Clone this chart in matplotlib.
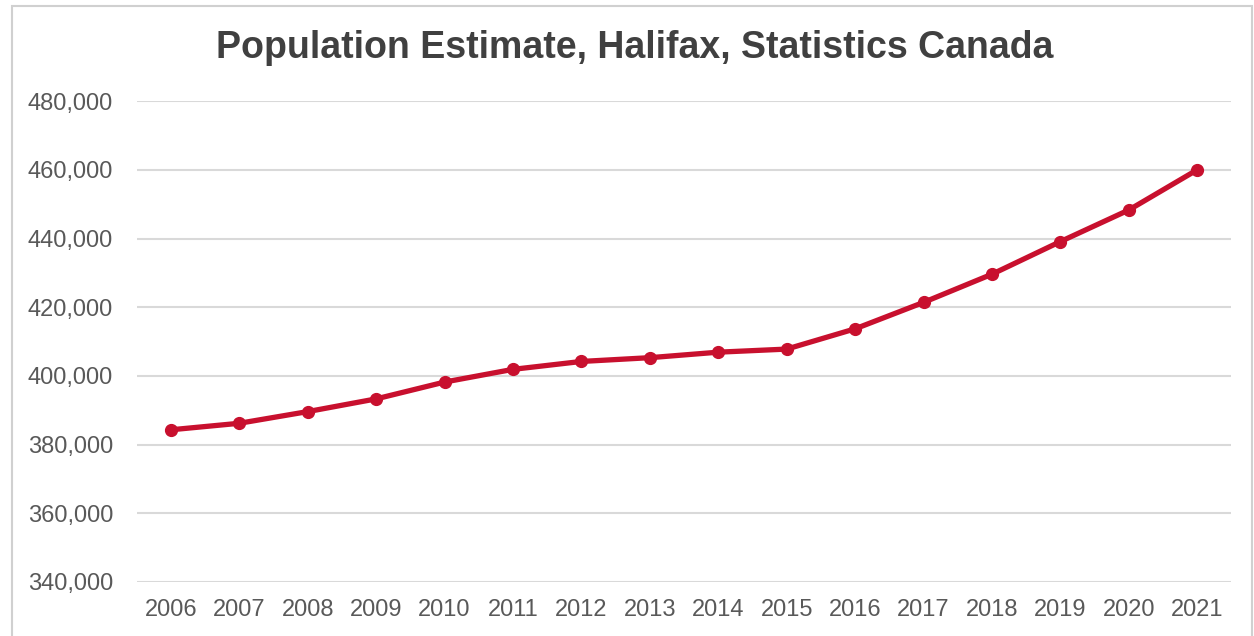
import matplotlib
matplotlib.use('Agg')
import matplotlib.pyplot as plt
import numpy as np

plt.rcParams['font.family'] = ['Liberation Sans', 'DejaVu Sans']

# data
years = ['2006', '2007', '2008', '2009', '2010', '2011', '2012', '2013',
         '2014', '2015', '2016', '2017', '2018', '2019', '2020', '2021']
population = [384300, 386200, 389600, 393300, 398200, 401900, 404200, 405300,
              406900, 407800, 413700, 421400, 429600, 439100, 448300, 460000]
yticks = [340000, 360000, 380000, 400000, 420000, 440000, 460000, 480000]

fig = plt.figure(figsize=(12.54, 6.36), dpi=100)
ax = fig.add_axes([0.109, 0.085, 0.873, 0.756])

# outer chart border
border = plt.Rectangle((12 / 1254, -0.01), 1 - 14 / 1254, 1 - 6 / 636 + 0.01,
                       transform=fig.transFigure, fill=False,
                       edgecolor='#d0d0d0', linewidth=1.5)
fig.patches.append(border)

x = np.arange(len(years))
ax.plot(x, population, color='#c8102e', linewidth=3.8, marker='o',
        markersize=8.5, zorder=3)

ax.set_xlim(-0.5, len(years) - 0.5)
ax.set_ylim(340000, 480000)
ax.set_yticks(yticks)
ax.set_yticklabels(['{:,}'.format(v) for v in yticks])
ax.set_xticks(x)
ax.set_xticklabels(years)

ax.grid(axis='y', color='#d9d9d9', linewidth=1.5)
ax.set_axisbelow(True)
for s in ax.spines.values():
    s.set_visible(False)
ax.tick_params(axis='both', length=0, labelsize=17, colors='#595959')
ax.tick_params(axis='y', pad=17)
ax.tick_params(axis='x', pad=12)

fig.text(0.506, 0.925, 'Population Estimate, Halifax, Statistics Canada',
         ha='center', va='center', fontsize=27, fontweight='bold',
         color='#404040')

fig.savefig('out.png', dpi=100)
